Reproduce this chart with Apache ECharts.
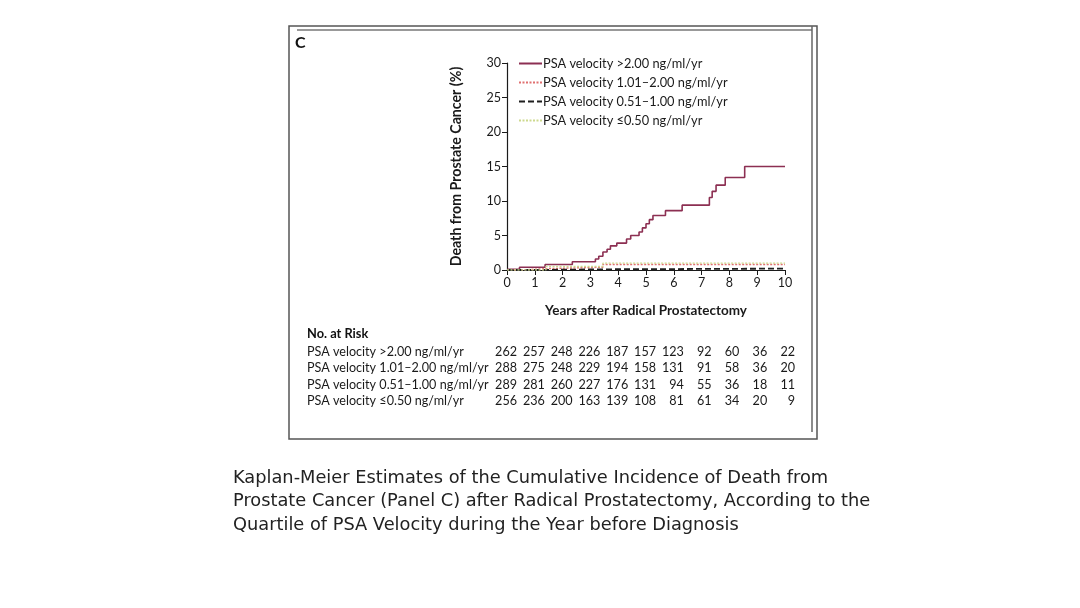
<!DOCTYPE html>
<html>
<head>
<meta charset="utf-8">
<script src="https://cdn.jsdelivr.net/npm/echarts@6/dist/echarts.min.js"></script>
<style>
  html, body { margin: 0; padding: 0; background: #fff; }
  #main { width: 1080px; height: 608px; }
</style>
</head>
<body>
<div id="main"></div>
<script>
// group names (legend + risk table)
const groups = [
  'PSA velocity >2.00 ng/ml/yr',
  'PSA velocity 1.01\u20132.00 ng/ml/yr',
  'PSA velocity 0.51\u20131.00 ng/ml/yr',
  'PSA velocity \u22640.50 ng/ml/yr'
]

// step curves: [years, %]
const curveHigh = [
  [0, 0.1], [0.45, 0.4], [1.37, 0.8], [2.35, 1.2], [3.18, 1.6], [3.3, 2.0],
  [3.45, 2.6], [3.6, 3.0], [3.72, 3.5], [3.95, 3.9], [4.3, 4.5], [4.45, 5.0],
  [4.75, 5.5], [4.87, 6.1], [5.0, 6.7], [5.12, 7.3], [5.25, 7.9], [5.7, 8.6],
  [6.3, 9.4], [7.28, 10.5], [7.38, 11.4], [7.52, 12.3], [7.85, 13.4],
  [8.55, 15.0], [10, 15.0]
]
const curveMid = [[0, 0], [0.5, 0.2], [1.4, 0.4], [3.45, 0.8], [10, 0.8]]
const curveLow = [[0, 0], [1.0, 0.1], [3.5, 0.2], [10, 0.2]]
const curveLowest = [[0, 0], [1.4, 0.5], [2.3, 0.5], [3.45, 1.0], [10, 1.0]]

// number at risk, years 0..10
const riskHigh = [262, 257, 248, 226, 187, 157, 123, 92, 60, 36, 22]
const riskMid = [288, 275, 248, 229, 194, 158, 131, 91, 58, 36, 20]
const riskLow = [289, 281, 260, 227, 176, 131, 94, 55, 36, 18, 11]
const riskLowest = [256, 236, 200, 163, 139, 108, 81, 61, 34, 20, 9]
const riskYears = [0, 1, 2, 3, 4, 5, 6, 7, 8, 9, 10]

const captionLines = [
  'Kaplan-Meier Estimates of the Cumulative Incidence of Death from',
  'Prostate Cancer (Panel C) after Radical Prostatectomy, According to the',
  'Quartile of PSA Velocity during the Year before Diagnosis'
]

const font = 'Lato, "Open Sans", sans-serif'
const axisCol = '#1a1a1a'
const textCol = '#1a1a1a'

let myChart = echarts.init(document.getElementById('main'))

function stepSeries(name, data, color, type, width) {
  return {
    name: name,
    type: 'line',
    step: 'end',
    data: data,
    symbol: 'none',
    silent: true,
    lineStyle: { color: color, type: type, width: width },
    itemStyle: { color: color }
  }
}

let option = {
  backgroundColor: '#fff',
  animation: false,
  textStyle: { fontFamily: font },
  grid: { left: 507, right: 295, top: 63, bottom: 338 },
  legend: {
    orient: 'vertical',
    left: 513,
    top: 52,
    itemWidth: 23,
    itemHeight: 10,
    itemGap: 6,
    data: groups,
    itemStyle: { opacity: 0 },
    textStyle: { fontFamily: font, fontSize: 12.8, color: textCol, padding: [0, 0, 0, -4] }
  },
  xAxis: {
    type: 'value',
    min: 0,
    max: 10,
    interval: 1,
    name: 'Years after Radical Prostatectomy',
    nameLocation: 'middle',
    nameGap: 34,
    nameTextStyle: { fontFamily: font, fontSize: 13.5, fontWeight: 'bold', color: textCol },
    axisLine: { lineStyle: { color: axisCol, width: 1.2 } },
    axisTick: { length: 5, lineStyle: { color: axisCol } },
    axisLabel: { fontSize: 12.5, color: textCol, margin: 6 },
    splitLine: { show: false }
  },
  yAxis: {
    type: 'value',
    min: 0,
    max: 30,
    interval: 5,
    name: 'Death from Prostate Cancer (%)',
    nameLocation: 'middle',
    nameGap: 44,
    nameTextStyle: { fontFamily: font, fontSize: 14.2, fontWeight: 'bold', color: textCol },
    axisLine: { show: true, lineStyle: { color: axisCol, width: 1.2 } },
    axisTick: { show: true, length: 5, lineStyle: { color: axisCol } },
    axisLabel: { fontSize: 12.5, color: textCol, margin: 6 },
    splitLine: { show: false }
  },
  series: [
    stepSeries(groups[0], curveHigh, '#8c2f52', 'solid', 1.6),
    stepSeries(groups[1], curveMid, '#e07070', [2, 1.5], 1.4),
    stepSeries(groups[2], curveLow, '#1e1e1e', [6, 3], 1.8),
    stepSeries(groups[3], curveLowest, '#cdd98e', [2, 1.5], 1.4)
  ]
}
myChart.setOption(option)

// frame, panel letter, risk table, caption
let g = []
g.push({ type: 'rect', shape: { x: 289, y: 26, width: 528, height: 413 },
  style: { fill: 'none', stroke: '#555', lineWidth: 1.5 }, silent: true })
g.push({ type: 'line', shape: { x1: 297, y1: 30, x2: 812, y2: 30 },
  style: { stroke: '#777', lineWidth: 1.5 }, silent: true })
g.push({ type: 'line', shape: { x1: 812, y1: 26, x2: 812, y2: 432 },
  style: { stroke: '#666', lineWidth: 1.5 }, silent: true })
g.push({ type: 'text', left: 295, top: 35,
  style: { text: 'C', font: 'bold 16px ' + font, fill: '#111' } })

g.push({ type: 'text', x: 307, y: 334,
  style: { text: 'No. at Risk', font: 'bold 12.8px ' + font, fill: '#111', textVerticalAlign: 'middle' } })
const riskRows = [riskHigh, riskMid, riskLow, riskLowest]
const rowY = [352, 368, 385, 401]
riskRows.forEach((row, r) => {
  g.push({ type: 'text', x: 307, y: rowY[r],
    style: { text: groups[r], font: '12.6px ' + font, fill: textCol, textVerticalAlign: 'middle' } })
  row.forEach((n, i) => {
    let px = myChart.convertToPixel({ xAxisIndex: 0 }, riskYears[i])
    g.push({ type: 'text', x: px + 10, y: rowY[r],
      style: { text: String(n), font: '12.6px ' + font, fill: textCol, textAlign: 'right', textVerticalAlign: 'middle' } })
  })
})

captionLines.forEach((t, i) => {
  g.push({ type: 'text', x: 233, y: 478 + i * 23.5,
    style: { text: t, font: '17.8px "DejaVu Sans", sans-serif', fill: '#222', textVerticalAlign: 'middle' } })
})

myChart.setOption({ graphic: g })
</script>
</body>
</html>
